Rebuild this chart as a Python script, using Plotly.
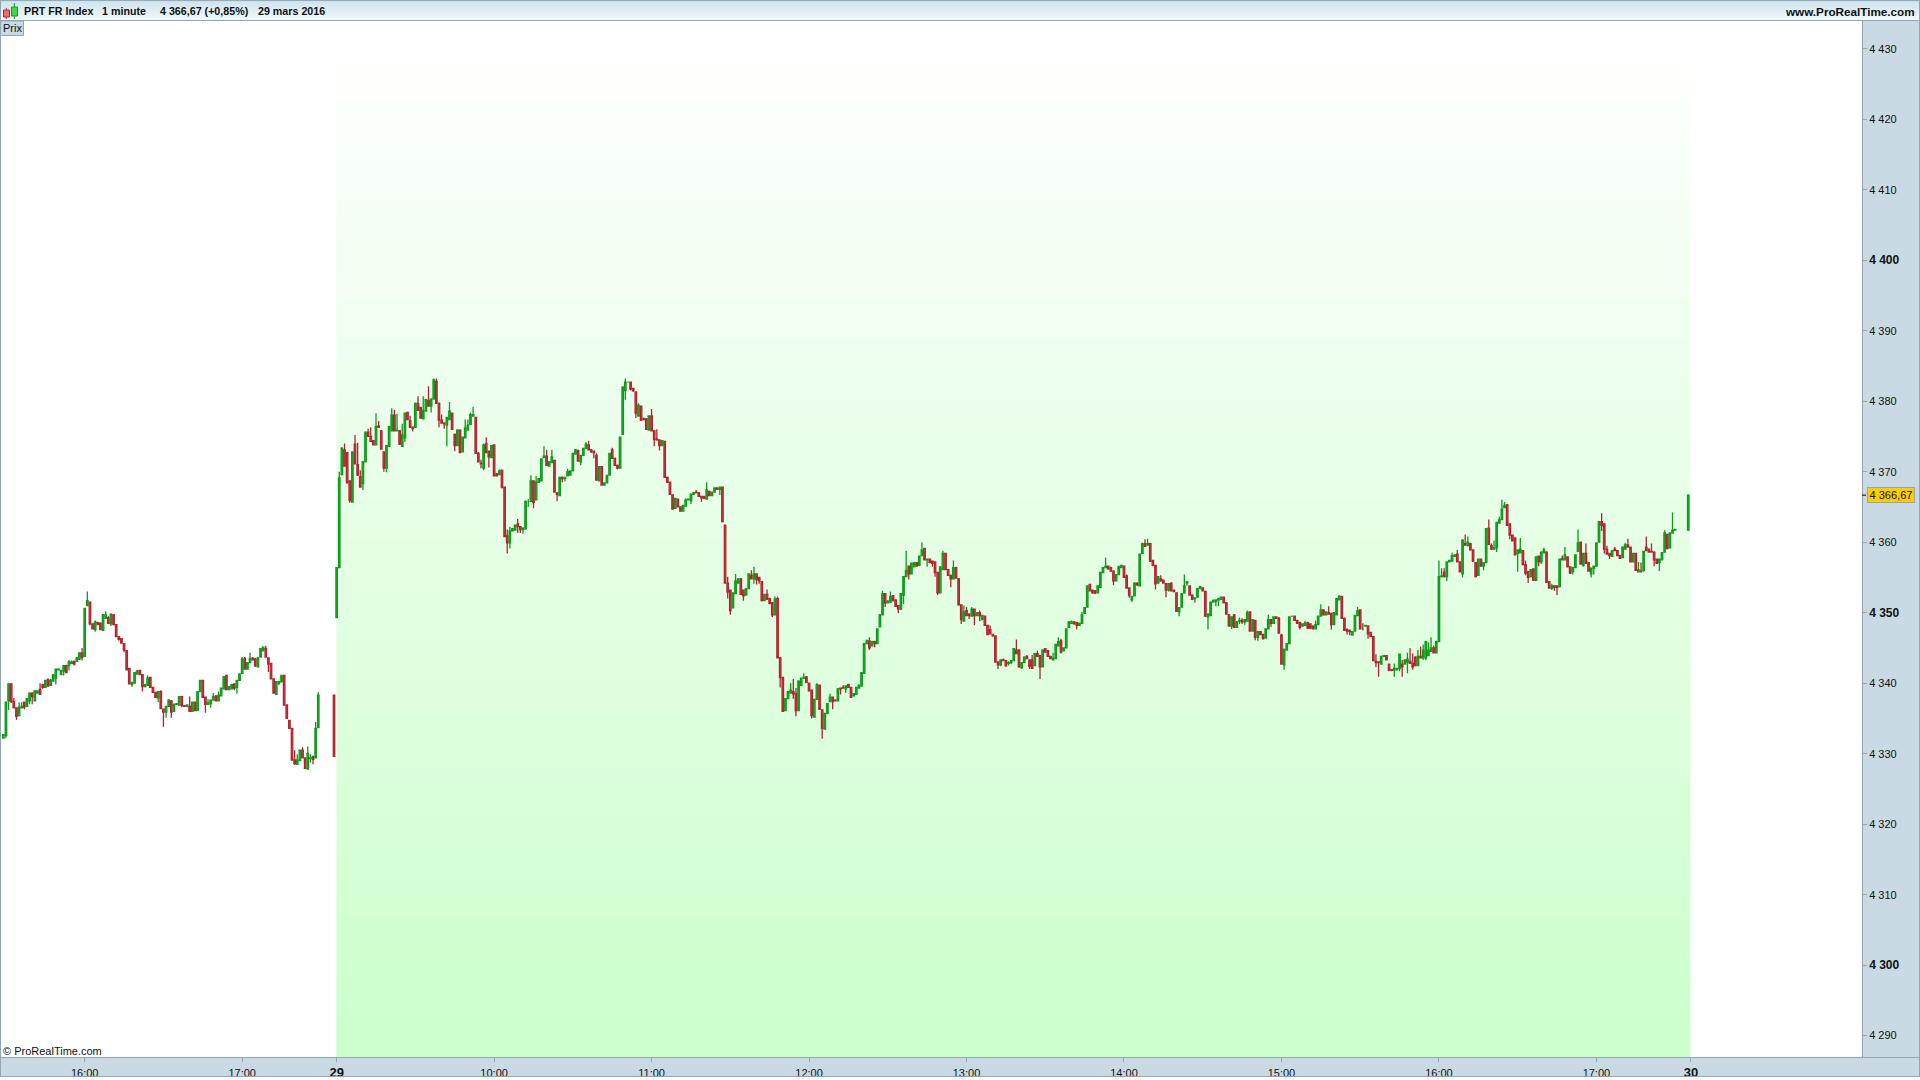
import plotly.graph_objects as go

# ---- previous session, 15:29 to 17:29 plus the 17:35 auction bar ----
prior_minutes = list(range(-127, -6)) + [-1]
prior_opens = [
4332.2,4332.6,4337.5,4339.9,4337.4,4336.5,4335.4,4336.5,4337.3,4336.7,
4337.5,4338.6,4337.5,4338.6,4339.1,4339.8,4339.4,4340.5,4339.7,4340.3,
4340.7,4341.9,4341.2,4341.7,4342.5,4342.5,4342.8,4343.1,4343.1,4343.4,
4344.3,4343.8,4351,4351.5,4348.4,4347.6,4348.6,4348.5,4347.5,4349.2,
4349.3,4348.4,4349.7,4348.3,4346.6,4346.3,4345.6,4344.6,4342.1,4339.8,
4340,4341.3,4341.8,4341.2,4339.5,4339.7,4340.8,4339.4,4338.7,4337.9,
4338.8,4336.3,4335.9,4336.7,4337.5,4336,4337,4336.9,4338.1,4336.8,
4336.7,4336.7,4336,4337.3,4336.1,4338.8,4340.4,4338,4337,4337.1,
4337.6,4338.2,4337.5,4338.2,4339.2,4341.1,4339.1,4339.2,4339.9,4339.4,
4340.4,4341.4,4343.5,4342,4342.9,4343.5,4343.4,4342.3,4343.7,4344.6,
4344.9,4343.6,4342.8,4340.6,4338.4,4340,4340.2,4341.1,4336.9,4334.7,
4333.6,4329.1,4328.5,4329,4330.5,4329.4,4327.8,4329.3,4329.6,4329.4,
4333.7,4338.3]
prior_closes = [
4332.7,4337.3,4339.9,4337.4,4336.5,4335.3,4336.6,4336.7,4336.6,4337.8,
4338.6,4338.1,4338.9,4338.9,4338.4,4339.4,4340.4,4339.6,4340.4,4341.2,
4342,4342,4341.8,4342.5,4341.5,4343,4343,4342.7,4343.6,4344.3,
4343.7,4350.6,4351.7,4348.4,4347.7,4348.7,4348.3,4347.6,4349.7,4349.7,
4348.5,4349.8,4348.3,4346.6,4346.2,4345.7,4344.7,4341.9,4339.9,4340.1,
4341.5,4341.7,4341.2,4339.5,4339.8,4340.7,4339.4,4338.7,4338,4338.8,
4336.4,4335.9,4336.7,4337.6,4335.9,4337,4337.1,4338.1,4336.8,4336.7,
4336.9,4336,4337.3,4336.1,4338.8,4340.4,4338,4337,4337.2,4337.6,
4338.1,4337.5,4338.3,4339.3,4340.9,4339.1,4339.5,4339.8,4339.3,4340.4,
4341.3,4343.4,4342,4342.9,4343.5,4343.3,4342.5,4343.6,4344.9,4345.1,
4343.7,4342.7,4340.6,4338.6,4340.2,4340.2,4341.1,4336.9,4335,4333.6,
4329.1,4328.6,4329.1,4330.5,4329.4,4327.9,4330,4329.4,4329.2,4333.6,
4338.3,4329.6]
prior_highs = [
4332.8,4337.4,4339.9,4339.9,4337.9,4336.5,4337.3,4337.3,4337.3,4337.9,
4338.7,4338.7,4339,4339,4340,4339.9,4340.5,4340.7,4340.6,4341.2,
4342,4342.1,4341.9,4342.5,4342.6,4343.3,4343.2,4343.2,4343.7,4344.4,
4345,4350.6,4353,4351.6,4348.4,4348.9,4348.7,4348.6,4349.8,4350.2,
4349.5,4349.9,4349.8,4348.3,4346.7,4346.4,4345.7,4344.6,4342.1,4340.1,
4341.6,4341.9,4341.9,4341.2,4339.9,4341.1,4340.9,4339.4,4338.7,4338.9,
4339,4336.4,4336.7,4337.7,4337.6,4337.1,4337.2,4338.1,4338.2,4336.9,
4336.9,4338.1,4337.4,4337.4,4338.9,4340.4,4340.4,4338,4337.7,4337.6,
4338.6,4338.3,4338.8,4339.4,4341,4341.2,4339.6,4339.9,4340,4340.5,
4341.4,4343.7,4343.7,4342.9,4344.3,4343.7,4343.6,4343.7,4345,4345.1,
4345.3,4343.6,4342.8,4340.6,4340.2,4340.3,4341.2,4341.2,4336.9,4334.8,
4333.6,4330.5,4329.9,4330.6,4330.9,4329.5,4331,4329.9,4329.7,4334.5,
4338.7,4338.3]
prior_lows = [
4332.2,4332.2,4336.2,4337.2,4336.4,4334.8,4335.4,4336.5,4336.3,4336.7,
4337,4337,4337.5,4338.5,4338.4,4339.2,4339.4,4339.6,4339.7,4340.2,
4339.8,4341.8,4341.2,4341.1,4341.4,4341.8,4342.7,4342.5,4343,4343.3,
4343.2,4343.7,4351,4348.2,4347.6,4347.3,4348.2,4347.5,4347.5,4349.1,
4348.4,4348.1,4348.2,4346.5,4346,4345.7,4344.4,4341.9,4339.8,4339.5,
4340,4341.2,4341.2,4338.8,4339.4,4339.7,4339.4,4338.7,4337.9,4337.3,
4336.3,4333.8,4335.1,4336.7,4335.1,4336,4337,4336.9,4336.6,4336.7,
4336.6,4335.9,4336,4336,4336.1,4338.8,4338,4335.8,4337,4336.5,
4337.6,4337.4,4337.5,4338.2,4339.2,4339.1,4339.1,4339.2,4339,4338.5,
4340.4,4341.3,4342,4342,4342.9,4343.2,4342.3,4342.2,4343.7,4344.5,
4343.7,4341.6,4340.6,4338.5,4338.4,4339.7,4340.2,4336.8,4334.9,4333.6,
4329.1,4328.4,4328.4,4329,4329.4,4327.9,4327.8,4328.7,4328.5,4329.3,
4333.6,4329.6]

# ---- 29 March, 09:00 to 17:30 plus the 17:35 auction bar ----
session_minutes = list(range(0, 511)) + [515]
session_opens = [
4349.3,4356.4,4369.6,4373.1,4372.7,4368.7,4365.7,4373.9,4371,4369.3,
4368.3,4371.4,4375.6,4375,4374.4,4373.8,4376.5,4375.8,4372.8,4370.5,
4373.6,4375.8,4378,4375.8,4375.8,4373.6,4374.8,4378.4,4377.2,4376.3,
4376.3,4379.7,4379.1,4377.5,4378.6,4380.1,4379.3,4380.3,4382.8,4379.7,
4377.3,4376.9,4376.6,4377.4,4378.3,4375.3,4373.7,4375.9,4372.8,4374.8,
4375.9,4376.7,4377.9,4377.7,4372.6,4371.2,4370.5,4374,4372.9,4372,
4373.8,4369.7,4369.6,4370.2,4367.8,4360.9,4359.9,4361.6,4361.7,4362.6,
4362.2,4361.8,4361.9,4365.8,4365.8,4368.7,4366,4368.5,4368.7,4372,
4372.2,4370.8,4371.3,4371.6,4367,4366.6,4369.2,4369,4369.4,4369.5,
4370.1,4372.5,4373,4371.4,4372.3,4373.3,4373.8,4373.1,4372.9,4372.3,
4368.7,4370.7,4368.1,4368.4,4369.5,4373.1,4371.9,4370.9,4370.5,4375.3,
4381.5,4382.7,4382.7,4381.8,4381.3,4377.9,4379.3,4377.5,4377.5,4375.9,
4377.9,4375.8,4374.6,4374.5,4373.7,4374.3,4369.2,4368.5,4366.7,4364.8,
4366.1,4365,4364.4,4365.1,4366,4365.9,4366.8,4367.1,4367,4366.5,
4366.5,4366.1,4367.2,4366.6,4367.1,4367.7,4367.5,4367.8,4362.4,4354.2,
4353.2,4350.7,4352.7,4354.2,4354.8,4353.2,4352.5,4353.4,4355.3,4354.8,
4355.5,4355,4354.4,4351.7,4352.6,4352,4351.4,4349.7,4352,4343.6,
4340.8,4336.1,4337.8,4338.6,4338.8,4338.5,4336.1,4339.7,4340.7,4340.9,
4340,4339,4335.2,4337.7,4339.7,4336.2,4333.5,4335.7,4337.4,4338,
4337.6,4337.5,4339.3,4339.4,4339.2,4339.8,4339.4,4338.2,4338.4,4339.3,
4339.6,4341.4,4345.6,4346,4345.3,4345.9,4345.6,4348,4349.7,4352.7,
4351.4,4351.5,4352.4,4351.8,4351,4350.5,4352.5,4355.1,4356.6,4355.5,
4356.5,4357.1,4356.7,4358.1,4359.1,4357.5,4357.6,4357.3,4357.2,4355.7,
4352.8,4356.1,4358.4,4356.1,4355.3,4354.8,4356.4,4354.8,4351.1,4348.8,
4350.3,4349.8,4349.5,4350.5,4349.6,4350,4349,4349.5,4348.2,4347.6,
4346.9,4346.7,4343,4342.6,4343.3,4343.2,4342.8,4342.9,4343.2,4344.7,
4344.7,4342.2,4342.9,4343.8,4343.3,4343.3,4342.5,4344.2,4343.9,4342.3,
4344.9,4344.6,4343.8,4343.3,4343.5,4345.3,4346,4344.6,4345,4347.9,
4348.5,4348.7,4348.6,4348.2,4348.5,4349.9,4350.8,4354,4353.2,4353.1,
4352.8,4353.6,4355.7,4356.4,4356.6,4356.4,4355.9,4354.5,4355.4,4356.4,
4356.6,4355.2,4353.5,4351.8,4352.4,4354.2,4353.8,4358.4,4359.8,4359.6,
4359.8,4357.4,4356.7,4354.2,4354.8,4354.6,4354.1,4353.2,4354.2,4353.2,
4352.8,4350.1,4350.8,4352.8,4354.2,4353.8,4352.5,4352,4352.2,4353.4,
4353.5,4353,4349.4,4349.6,4351.5,4351.6,4351.8,4351.9,4352.2,4351.4,
4349.7,4348.1,4349.7,4347.9,4348.8,4348.9,4348.7,4348.8,4350.1,4347.4,
4348.9,4346.5,4347.3,4346.9,4346.4,4347.7,4349,4348.5,4349.4,4349.2,
4346.8,4342.6,4344.7,4345.6,4349.5,4349.5,4348.9,4348.6,4348.1,4348.2,
4348.6,4348.4,4348.1,4347.7,4348.3,4349.5,4350.4,4349.7,4350,4349.9,
4348.3,4349.7,4351.8,4352.3,4349.2,4347.6,4347.5,4346.8,4347.4,4349.6,
4350.4,4347.6,4348.1,4348.1,4347.2,4346.6,4343.1,4343,4342.7,4343.8,
4343.9,4342.7,4341.9,4341.9,4341.9,4342.1,4342.7,4342.7,4343,4343.1,
4342.8,4343.7,4342.5,4343.8,4343.6,4343.6,4343.9,4344.5,4345,4344.3,
4345.9,4355.1,4355.7,4355.1,4357.2,4357.3,4358,4358.3,4357.2,4355.5,
4359.8,4359.5,4359.8,4358.9,4357.1,4355.3,4357.6,4356.6,4357.1,4362,
4359.5,4359,4359.2,4362.7,4363.2,4364.9,4365.3,4362.6,4361,4360.6,
4358.4,4358.5,4358.8,4356.8,4355.8,4355.1,4356.2,4354.6,4358,4357.2,
4358.5,4358.6,4354.4,4353.5,4353.8,4353.8,4353.7,4357.7,4357.5,4357.9,
4356.5,4355.8,4356.4,4358.7,4360,4356.7,4358.4,4357.1,4355.5,4356.3,
4356.6,4360,4362.9,4362.6,4359,4358.4,4358,4359,4358.8,4358.1,
4357.8,4359,4359.6,4359.3,4357.2,4358.4,4355.8,4355.9,4356,4359.3,
4359,4358.7,4358.6,4357.6,4357.1,4357.5,4358.6,4361.1,4359.2,4361.3,
4361.7,4361.7]
session_closes = [
4356.4,4369.1,4373.3,4370.8,4368.4,4365.9,4372.8,4371.1,4369.5,4367.8,
4371.4,4375.6,4375,4374.3,4373.8,4376.4,4376.3,4373.2,4370.5,4373.7,
4376.4,4378,4375.8,4375.9,4373.9,4375.2,4378.3,4377.4,4376.3,4376.1,
4379.7,4378.7,4377.6,4378.7,4380.2,4379.3,4380.3,4383,4379.7,4377.3,
4376.9,4376.8,4377.7,4378.6,4376,4373.7,4375.9,4372.7,4374.9,4376.2,
4376.6,4378.1,4378.1,4372.6,4371.4,4371.1,4373.8,4372.7,4372.1,4373.7,
4369.4,4369.4,4370.1,4367.8,4360.8,4359.9,4361.6,4361.9,4362.4,4362.2,
4361.8,4362,4365.8,4365.8,4368.7,4365.6,4368.5,4369,4371.8,4372.2,
4370.9,4371.4,4372.1,4367.1,4366.8,4369.2,4369,4369.1,4370,4370.1,
4372.6,4373.1,4371.5,4372.3,4373.3,4373.9,4373.1,4372.8,4372.7,4368.8,
4370.7,4368.1,4368.4,4369.4,4372.6,4371.9,4370.9,4370.5,4374.9,4382,
4382.7,4382.7,4381.7,4381.5,4378.3,4379.4,4377.3,4377.4,4376,4377.9,
4375.8,4374.6,4374.5,4373.7,4374.4,4369.2,4368.5,4366.8,4364.7,4366.2,
4365,4364.4,4365.2,4366,4366.1,4366.8,4367,4367,4366.5,4366.3,
4366.2,4367.4,4366.6,4367.1,4367.7,4367.5,4367.8,4362.9,4354.2,4352.9,
4350.3,4352.8,4354.5,4354.8,4352.6,4352.4,4353.4,4355.5,4354.8,4355.5,
4354.7,4354.5,4351.7,4352.6,4351.9,4351.3,4349.7,4351.9,4343.6,4340.8,
4336,4337.8,4338.8,4339,4338.5,4336.1,4340.3,4340.7,4340.8,4340.1,
4338.9,4335.4,4337.7,4339.8,4336.3,4333.6,4335.7,4337.1,4338,4337.4,
4337.5,4339.2,4339.2,4339.3,4339.6,4339.4,4338,4338.5,4339.4,4339.7,
4341.5,4345.6,4346,4345,4345.9,4345.6,4347.7,4349.7,4352.7,4351.4,
4351.6,4352.3,4351.7,4350.9,4350.5,4352.7,4355.1,4356,4355.5,4357,
4357.1,4356.6,4358,4358.9,4357.5,4357.6,4357.1,4357,4355.7,4352.8,
4356.5,4358.4,4356.1,4355.3,4354.8,4356.4,4354.9,4351.1,4349,4350.1,
4349.6,4349.6,4350.5,4349.6,4350,4349.6,4349.6,4348.2,4346.9,4347,
4346.7,4343,4342.6,4343.3,4343.2,4342.5,4342.9,4343.2,4344.9,4344.2,
4342.3,4342.9,4343.7,4343.5,4342.4,4342.1,4344.2,4343.8,4342.3,4344.7,
4344.4,4343.8,4343.5,4343.5,4345.5,4345.9,4344.4,4345,4347.7,4348.7,
4348.7,4348.4,4348.2,4348.5,4349.7,4350.7,4353.8,4353.1,4352.8,4352.8,
4353.8,4355.7,4356.4,4356.6,4356.2,4355.9,4354.5,4355.4,4356.5,4356.7,
4355,4353.5,4352.5,4352.3,4354.2,4353.9,4358.3,4359.8,4359.4,4359.8,
4357.3,4356.7,4354.1,4355.1,4354.5,4354.2,4353.2,4354.1,4353.1,4353,
4350.2,4350.7,4352.7,4353.8,4354.4,4352.5,4351.9,4352.1,4353.4,4353.7,
4353.1,4349.5,4349.8,4351.5,4351.7,4351.8,4352,4352.2,4351.4,4349.8,
4348.1,4349.4,4347.9,4348.7,4348.9,4348.7,4349,4350,4347.4,4349,
4346.5,4347.3,4346.9,4346.3,4347.7,4349,4348.5,4349.4,4349.2,4347.1,
4342.7,4344.8,4345.6,4349.4,4349.5,4348.9,4348.5,4347.9,4348.4,4348.5,
4347.8,4347.8,4347.7,4348.3,4349.5,4350.4,4349.7,4350.1,4349.8,4348.3,
4350,4352,4352.3,4349.2,4347.5,4347.4,4347.3,4347.3,4349.6,4350.3,
4347.7,4347.6,4348.2,4347,4346.6,4343.2,4342.9,4342.9,4343.8,4343.9,
4343.3,4341.8,4341.8,4342.1,4342.1,4344.1,4342.3,4343.3,4343.4,4342.8,
4342.3,4342.5,4343.8,4343.6,4344.7,4345.9,4344.7,4345,4344.3,4345.9,
4355.1,4355.2,4355.1,4357.2,4357.4,4358.1,4358.2,4357.2,4355.8,4360.3,
4359.6,4360,4358.9,4357.3,4355.1,4357.6,4356.6,4357.1,4361.9,4359.7,
4359,4359.2,4362.8,4363.2,4364.7,4365.2,4362.4,4361,4360.2,4358.2,
4358.9,4359,4356.8,4355.6,4355,4356.1,4354.6,4357.9,4357.2,4358.6,
4358.9,4354.3,4353.5,4353.8,4353.6,4353.6,4357.6,4357.5,4358.2,4356.5,
4355.6,4356.4,4358.2,4359.9,4356.9,4358.4,4357,4355.9,4356.3,4356.6,
4359.9,4362.9,4362.4,4359,4358.3,4358.1,4358.8,4358.8,4358.1,4357.7,
4359.3,4359.6,4359.3,4357.2,4358.4,4356,4356.1,4355.8,4358.7,4358.8,
4358.6,4358.6,4357.5,4357,4357.6,4358.5,4361.3,4359.1,4361.3,4361.7,
4361.8,4366.67]
session_highs = [
4356.4,4370,4373.5,4374,4372.8,4368.7,4372.9,4375.2,4374.1,4370.2,
4371.5,4375.7,4376.1,4376.3,4374.5,4378.3,4377.2,4375.9,4372.9,4373.8,
4376.5,4379,4378.8,4378.2,4375.9,4376.8,4378.4,4378.5,4377.9,4376.4,
4379.8,4380.7,4379.2,4380.7,4380.3,4382.1,4380.4,4383.2,4383.2,4379.8,
4378.1,4377,4377.8,4379.9,4378.4,4375.4,4376,4376,4375,4377.4,
4377.4,4378.4,4379.2,4377.8,4372.8,4371.7,4374,4374.9,4373,4373.8,
4373.9,4369.8,4370.3,4370.3,4367.9,4361.8,4362.2,4362,4362.5,4363.3,
4362.3,4362.1,4365.9,4366.1,4369.5,4368.8,4369.4,4369.1,4371.9,4373.6,
4373.1,4371.5,4373.1,4371.7,4367.1,4369.3,4369.3,4369.3,4370.4,4370.2,
4372.7,4373.2,4373.1,4372.4,4373.4,4374.2,4374.4,4373.2,4373,4372.6,
4370.8,4370.8,4368.5,4369.6,4372.7,4373.4,4372,4371,4375,4382.1,
4383.2,4382.8,4382.8,4381.9,4381.4,4379.7,4379.4,4377.7,4377.6,4378,
4378.9,4375.9,4376,4374.6,4374.5,4374.4,4369.3,4368.6,4366.8,4366.3,
4366.2,4365.1,4365.3,4366.2,4366.2,4366.9,4367.1,4367.4,4367.1,4366.6,
4366.6,4368.5,4367.3,4367.2,4367.8,4367.8,4367.9,4367.9,4362.5,4355.1,
4353.3,4352.9,4355.5,4354.9,4354.9,4353.3,4353.5,4355.6,4356,4356.5,
4355.6,4355.1,4354.5,4352.7,4353.3,4352.1,4351.5,4352.3,4352.3,4343.7,
4340.9,4337.9,4338.9,4340,4340.6,4339.3,4340.4,4340.8,4341.4,4341,
4340.1,4339.1,4337.8,4340,4339.8,4336.3,4335.8,4337.2,4338.5,4338.1,
4337.7,4339.3,4339.4,4339.7,4339.7,4339.9,4339.5,4338.6,4339.5,4339.8,
4341.6,4345.7,4346.2,4346.5,4346,4346,4347.8,4349.8,4353.1,4352.8,
4351.8,4353,4352.5,4351.9,4351.1,4352.8,4355.2,4358.8,4356.7,4357.1,
4357.2,4357.2,4358.1,4360,4359.2,4357.7,4357.7,4357.4,4357.3,4355.8,
4356.6,4358.8,4358.5,4356.2,4355.4,4357.4,4356.5,4354.9,4351.2,4351,
4350.8,4349.9,4350.8,4350.6,4350.1,4350.3,4349.7,4349.6,4348.3,4348.2,
4347,4346.8,4343.1,4343.4,4343.5,4343.3,4343.1,4343.3,4345,4346.2,
4344.8,4343,4343.8,4344,4343.4,4344,4344.3,4344.6,4344,4344.8,
4345,4344.7,4343.9,4344.3,4345.6,4346.5,4346.3,4345.1,4347.8,4348.8,
4348.9,4348.8,4348.7,4348.6,4350.1,4350.8,4353.9,4354.1,4353.3,4353.2,
4353.9,4355.8,4356.5,4357.8,4356.7,4356.5,4356,4355.5,4356.7,4356.8,
4356.7,4355.4,4353.6,4352.4,4354.3,4354.3,4358.4,4359.9,4360.4,4360.5,
4359.9,4357.5,4356.8,4355.2,4355.3,4354.7,4354.2,4354.2,4354.3,4353.3,
4352.9,4350.8,4352.8,4355.4,4354.5,4353.9,4352.6,4352.2,4353.5,4353.8,
4353.6,4353.1,4349.9,4351.6,4351.9,4351.9,4352.1,4352.3,4352.3,4351.5,
4349.8,4349.5,4349.8,4348.8,4349.3,4349.2,4349.1,4350.3,4350.2,4349.1,
4349,4347.4,4347.4,4347,4347.8,4349.7,4349.1,4349.5,4349.5,4349.4,
4347,4344.9,4345.7,4349.5,4349.6,4349.6,4349,4348.7,4348.5,4348.8,
4348.7,4348.5,4348.2,4348.9,4349.6,4351.2,4350.5,4350.2,4350.9,4350,
4350.1,4352.1,4352.5,4352.4,4349.3,4347.8,4347.6,4347.4,4349.7,4350.8,
4350.5,4348.5,4348.3,4348.2,4347.3,4346.7,4344.1,4343.1,4343.9,4344,
4344,4342.8,4342,4342.8,4342.2,4344.2,4343.3,4343.4,4344.3,4345,
4344.2,4343.8,4344.7,4345.2,4345.5,4346,4345.8,4346.5,4345.3,4346,
4357.4,4356.3,4356.3,4357.3,4357.5,4358.5,4358.3,4358.9,4357.3,4360.4,
4361.1,4360.8,4359.9,4359,4357.2,4357.7,4357.7,4357.2,4362,4363.2,
4359.8,4360.2,4362.9,4363.6,4366,4365.7,4365.4,4362.7,4361.1,4360.7,
4359,4360.6,4358.9,4357.4,4355.9,4356.2,4356.3,4358,4358.1,4358.7,
4359.2,4358.7,4354.5,4354.1,4353.9,4353.9,4357.7,4358.1,4359.3,4358,
4356.6,4356.5,4358.3,4361.8,4360.1,4358.5,4359.8,4357.2,4356.4,4356.7,
4360,4363,4364.1,4362.7,4359.5,4358.5,4358.9,4359.3,4358.9,4358.2,
4359.4,4359.9,4360.5,4359.4,4358.5,4358.5,4357.2,4357.1,4358.8,4360.8,
4359.1,4359.8,4358.7,4357.7,4357.7,4358.6,4361.7,4361.2,4361.4,4364.2,
4361.8,4366.8]
session_lows = [
4349.3,4356.4,4369.6,4370.8,4368.4,4365.6,4365.7,4371,4369.4,4367.8,
4367.4,4371.4,4375,4374.3,4373.8,4373.8,4376.3,4373.2,4370,4369.9,
4373.6,4375.7,4375.7,4375.8,4373.8,4373.5,4374.2,4377.4,4376.3,4375.7,
4376.3,4378.6,4377.5,4377.4,4378.6,4379.2,4378.4,4380.3,4379.6,4376.3,
4376.9,4376.1,4373.6,4377.4,4375.9,4372.9,4373.7,4372.6,4372.8,4374.8,
4375.9,4376.7,4377.9,4372.5,4371.3,4370.5,4370.2,4372.7,4370.6,4372,
4369.3,4369.3,4369.6,4367.6,4360.7,4358.4,4359.1,4361.5,4361.7,4361.3,
4361.3,4361.2,4361.8,4365,4365.7,4364.8,4366,4368.5,4368.7,4372,
4370.9,4370.8,4371.3,4367,4365.8,4366.6,4368.5,4368.6,4369.4,4369.5,
4370.1,4372.5,4371.4,4370.9,4372.3,4373.3,4373.1,4372.7,4371.9,4368.7,
4368.6,4368,4368.1,4368.4,4369.5,4371.8,4370.9,4370.3,4370.5,4375.3,
4380.2,4382.6,4381.5,4381.3,4377.6,4377.9,4377.2,4377.3,4375.9,4375.8,
4375.8,4373.6,4374.4,4373,4373.7,4369.1,4368.4,4366.7,4364.6,4364.8,
4364.9,4364.3,4364.3,4365.1,4365.9,4365.4,4366.8,4366.9,4366.4,4365.7,
4366.1,4366.1,4366.5,4366.6,4367,4367.4,4366.7,4362.8,4354.1,4352,
4349.7,4350.7,4352.6,4354.2,4352.5,4351.7,4352.4,4353.4,4354.7,4354.1,
4354,4354.1,4351.6,4351.7,4351.8,4351.2,4349.4,4349.7,4343.5,4339.4,
4335.9,4336,4337.8,4338.6,4337.8,4335.3,4336.1,4339.7,4340.6,4340,
4338.8,4335,4335.1,4337.7,4336.2,4332.1,4333.5,4335.6,4337.3,4336.3,
4337.4,4337.5,4338.4,4339.2,4338.6,4339.3,4337.9,4338.1,4338.4,4339.2,
4339.6,4341.4,4345.6,4344.7,4345.3,4345.1,4345.6,4348,4349.7,4350.8,
4351.3,4351.5,4351.6,4350.8,4349.9,4350.5,4351.2,4355.1,4354.7,4355.5,
4356.5,4356.5,4356.7,4358.1,4357.4,4356.5,4357,4356.5,4355.1,4352.5,
4352.8,4356.1,4356,4355.2,4353.6,4354.8,4354.8,4351,4348.4,4348.7,
4349.5,4349.1,4349.5,4348.2,4349.5,4348.8,4349,4348.1,4346.8,4346.9,
4346.6,4342.9,4342,4342.4,4343.1,4342.3,4342.5,4342.7,4343.2,4344.1,
4342.2,4342,4342.9,4343.4,4342,4342,4342.5,4343.7,4340.6,4342.3,
4344.3,4343.7,4343.4,4343.2,4343.5,4345.3,4344.2,4344.6,4345,4347.9,
4348.4,4348.3,4347.6,4348.2,4348.5,4349.8,4350.8,4353,4352.7,4352.6,
4352.8,4353.5,4355.7,4356.4,4356.1,4355.8,4353.9,4354.5,4355.3,4356.3,
4354.9,4353.4,4352.1,4351.5,4352.3,4353.8,4353.8,4358.4,4359.3,4359.5,
4357.2,4356.6,4353.3,4354.2,4354.4,4354.1,4352.2,4353,4353,4352.9,
4350.1,4349.5,4350.8,4352.8,4353.8,4352.4,4351.8,4351.4,4352.2,4353.4,
4353,4349.4,4347.6,4349.6,4351.4,4350.9,4350.9,4351.8,4351.3,4349.7,
4348,4347.7,4347.8,4347.9,4348.4,4348.4,4348.3,4348.8,4347.3,4347.4,
4346.1,4346,4346.8,4346.2,4346.4,4347.7,4348,4348.5,4349.1,4347,
4342.6,4341.9,4344.7,4345.6,4349.4,4348.8,4348.4,4347.6,4348,4348.2,
4347.7,4347.7,4347.6,4347.7,4348.3,4349.5,4349.6,4349.7,4349.7,4347.6,
4348.3,4349.7,4351.8,4349.1,4347.4,4346.9,4346.8,4346.8,4347.4,4349.6,
4347.6,4347.6,4348,4346.3,4346.5,4343.1,4342.3,4340.9,4342.7,4343.7,
4343.2,4341.7,4341.7,4340.9,4341.8,4341.7,4340.9,4342.7,4341.4,4342.7,
4341.9,4342.4,4342.5,4343.5,4343.3,4343.3,4343.9,4344.5,4344.2,4344.3,
4345.8,4355,4355,4354.5,4357.2,4357.3,4358,4357.2,4355.7,4355,
4359.5,4359.5,4358.8,4357.2,4355,4355.3,4356.5,4356,4357.1,4359.6,
4358.9,4359,4358.6,4362.7,4363.2,4364.9,4362.3,4360.4,4360.1,4358.1,
4355.8,4358.5,4356.7,4355.3,4354.2,4355,4354.5,4354.5,4356.6,4356.9,
4358.5,4354.2,4353.4,4353.2,4353.1,4352.5,4353.7,4357.4,4357.5,4356.4,
4355.5,4355.4,4356.4,4358.7,4356.8,4356.5,4356.9,4355.8,4355,4355.4,
4356.6,4360,4361.6,4358.4,4358.2,4357.6,4358,4358.7,4358,4357.6,
4357.8,4359,4359.2,4357.1,4357.2,4355.9,4355.7,4355.7,4355.8,4358.7,
4358.5,4358.5,4356.6,4356.9,4355.9,4357.4,4358.6,4359,4359.1,4361.2,
4361.7,4361.7]

y_ticks = [4290, 4300, 4310, 4320, 4330, 4340, 4350, 4360, 4370, 4380, 4390, 4400, 4410, 4420, 4430]
y_major = [4300, 4350, 4400]
x_ticks = [-96, -36, 0, 60, 120, 180, 240, 300, 360, 420, 480, 516]
x_labels = ["16:00", "17:00", "29", "10:00", "11:00", "12:00", "13:00", "14:00", "15:00", "16:00", "17:00", "30"]
x_major = ["29", "30"]
last_price = 4366.67
last_label = "4 366,67"

W, H = 1920, 1080
L, R, T, B = 0, 58, 20, 20
PW, PH = W - L - R, H - T - B
Y_RANGE = [4286.97, 4434.07]
X_RANGE = [-128.27, 581.2]
FONT = "Liberation Sans, Arial, sans-serif"
STRIP = "#c9dae4"
EDGE = "#93a6b2"


def px(x):
    return x / PW


def py(y):
    return 1 - (y - T) / PH


def rect(x0, y0, x1, y1, fill, line=None, layer="above", width=1):
    return dict(type="rect", xref="paper", yref="paper", x0=px(x0), x1=px(x1),
                y0=py(y0), y1=py(y1), fillcolor=fill, layer=layer,
                line=dict(color=line or fill, width=width if line else 0))


def seg(x0, y0, x1, y1, color, width=1):
    return dict(type="line", xref="paper", yref="paper", x0=px(x0), x1=px(x1),
                y0=py(y0), y1=py(y1), line=dict(color=color, width=width), layer="above")


def text(x, y, s, size=11, bold=False, anchor="left", color="#111111"):
    return dict(x=px(x), y=py(y), xref="paper", yref="paper", showarrow=False,
                xanchor=anchor, yanchor="middle", align=anchor,
                text=f"<b>{s}</b>" if bold else s,
                font=dict(family=FONT, size=size, color=color))


fig = go.Figure()
# the session background: a white-to-green wash behind the candles
bands = 104
band_edges = [Y_RANGE[0] + (Y_RANGE[1] - Y_RANGE[0]) * i / bands for i in range(bands + 1)]
fig.add_trace(go.Heatmap(
    x=[-0.1, 515.9], y=band_edges, z=[[i] for i in range(bands)],
    colorscale=[[0, "#ccffcc"], [1, "#ffffff"]], showscale=False, hoverinfo="skip",
))
fig.add_trace(go.Candlestick(
    x=prior_minutes + session_minutes,
    open=prior_opens + session_opens,
    high=prior_highs + session_highs,
    low=prior_lows + session_lows,
    close=prior_closes + session_closes,
    increasing=dict(line=dict(color="#0f9a1c", width=1.3), fillcolor="#35c93a"),
    decreasing=dict(line=dict(color="#b1242f", width=1.3), fillcolor="#e8696b"),
    whiskerwidth=0, showlegend=False, hoverinfo="skip",
))

shapes = []
shapes.append(rect(PW, 0, W, H, STRIP, layer="below"))
shapes.append(rect(0, H - B, W, H, STRIP, layer="below"))
for i in range(20):
    a = i / 19
    r, g, b = (int(206 + 34 * a), int(227 + 21 * a), int(238 + 13 * a))
    shapes.append(rect(0, i, W, i + 1, f"rgb({r},{g},{b})"))
shapes.extend([
    seg(0, 0.5, W, 0.5, EDGE), seg(0, 20.5, W, 20.5, EDGE),
    seg(0.5, 0, 0.5, H, EDGE), seg(W - 0.5, 0, W - 0.5, H, EDGE),
    seg(PW + 0.5, 20, PW + 0.5, H - B, EDGE), seg(0, H - B + 0.5, W, H - B + 0.5, EDGE),
    seg(0, H - 0.5, W, H - 0.5, EDGE),
    seg(6.3, 8, 6.3, 19, "#a82a33"), rect(3.5, 10, 9.5, 17, "#ee6a6a", "#a82a33"),
    seg(14.3, 3, 14.3, 19, "#119a1c"), rect(11.5, 7, 17.5, 16, "#47d44c", "#119a1c"),
    rect(0.5, 21, 23.5, 35.5, STRIP, EDGE),
])
y_tag = (last_price - Y_RANGE[0]) / (Y_RANGE[1] - Y_RANGE[0])
shapes.append(dict(type="line", xref="paper", yref="paper", x0=1, x1=px(PW + 4), y0=y_tag, y1=y_tag,
                   line=dict(color="#000000", width=1), layer="above"))

annotations = [
    text(22, 11, "PRT FR Index", 10.7, True),
    text(100, 11, "1 minute", 10.7, True),
    text(158, 11, "4 366,67 (+0,85%)", 10.7, True),
    text(255.5, 11, "29 mars 2016", 10.7, True),
    text(1917, 11, "www.ProRealTime.com", 11.7, True, "right"),
    text(1, 28, "Prix", 11),
    text(1, 1054, "© ProRealTime.com", 11),
    dict(x=px(1867), y=last_price, xref="paper", yref="y", showarrow=False, xanchor="left",
         yanchor="middle", text=last_label, bgcolor="#ffcc00", bordercolor=EDGE, borderwidth=1,
         borderpad=1, width=44, height=12, font=dict(family=FONT, size=11, color="#111111")),
]

fig.update_layout(
    width=W, height=H, margin=dict(l=L, r=R, t=T, b=B), autosize=False,
    paper_bgcolor="#ffffff", plot_bgcolor="#ffffff", showlegend=False,
    boxgap=0.2, shapes=shapes, annotations=annotations,
    font=dict(family=FONT, size=11, color="#111111"),
    xaxis=dict(
        range=X_RANGE, rangeslider=dict(visible=False), showgrid=False, zeroline=False,
        tickmode="array", tickvals=x_ticks,
        ticktext=[f'<b style="font-size:13px">{t}</b>' if t in x_major else t for t in x_labels],
        ticks="outside", ticklen=4, tickcolor=EDGE, tickfont=dict(family=FONT, size=11, color="#111111"),
        showline=False, ticklabelstandoff=2,
    ),
    yaxis=dict(
        range=Y_RANGE, side="right", showgrid=False, zeroline=False,
        tickmode="array", tickvals=y_ticks,
        ticktext=[f'<b style="font-size:12px">{v // 1000} {v % 1000:03d}</b>' if v in y_major
                  else f"{v // 1000} {v % 1000:03d}" for v in y_ticks],
        ticks="outside", ticklen=4, tickcolor=EDGE, tickfont=dict(family=FONT, size=11, color="#111111"),
        showline=False, ticklabelstandoff=0,
    ),
)
assert len(prior_minutes) == len(prior_opens) == len(prior_closes) == len(prior_highs) == len(prior_lows)
assert len(session_minutes) == len(session_opens) == len(session_closes) == len(session_highs) == len(session_lows), (
    len(session_minutes), len(session_opens), len(session_closes), len(session_highs), len(session_lows))
fig.write_html("out.html", config=dict(displayModeBar=False),
               post_script="var s=document.documentElement.style;s.margin='0';s.height='1080px';s.overflow='hidden';"
                           "var b=document.body.style;b.margin='0';b.height='1080px';b.overflow='hidden';")
